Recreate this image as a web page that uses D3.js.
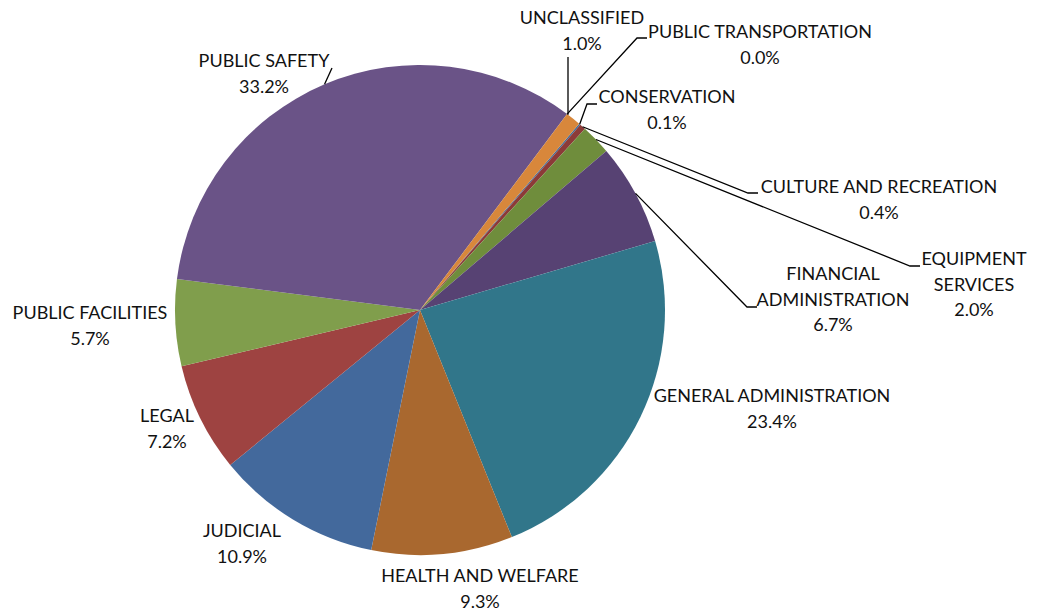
<!DOCTYPE html>
<html><head><meta charset="utf-8">
<script src="https://cdn.jsdelivr.net/npm/d3@7"></script>
<style>body{margin:0;background:#fff}svg{display:block}text{font-family:Lato,"Open Sans",sans-serif;font-size:18px;fill:#111}</style>
</head><body>
<svg id="c" width="1037" height="608"></svg>
<script>
const categories = ["CONSERVATION","CULTURE AND RECREATION","EQUIPMENT SERVICES","FINANCIAL ADMINISTRATION","GENERAL ADMINISTRATION","HEALTH AND WELFARE","JUDICIAL","LEGAL","PUBLIC FACILITIES","PUBLIC SAFETY","PUBLIC TRANSPORTATION","UNCLASSIFIED"];
const values = [0.1,0.4,2.0,6.7,23.4,9.3,10.9,7.2,5.7,33.2,0.0,1.0];
const colors = ["#3f6d9c","#8c3a38","#6f8d3c","#574273","#31768a","#a9682f","#43699c","#9e4341","#809e4c","#6a5387","#2e8aa0","#d8873b"];
// label layout: lines, center x, first baseline, leader end point (x,y), elbow x
const labelLines = [["CONSERVATION"],["CULTURE AND RECREATION"],["EQUIPMENT","SERVICES"],["FINANCIAL","ADMINISTRATION"],["GENERAL ADMINISTRATION"],["HEALTH AND WELFARE"],["JUDICIAL"],["LEGAL"],["PUBLIC FACILITIES"],["PUBLIC SAFETY"],["PUBLIC TRANSPORTATION"],["UNCLASSIFIED"]];
const labelPos = [[667,103],[879,193],[974,265],[833,280],[772,402],[480,582],[242,537],[167,422],[90,319],[264,67],[760,38],[582,24]];
const leaders = [[[587,104],[597,104]],[[748,193],[758,193]],[[910,266],[920,266]],[[747,307],[757,307]],null,null,null,null,null,[[332,68],null],[[637,38],[647,38]],[[568,57],null]];

const svg = d3.select("#c");
const cx = 420, cy = 310, r = 245;
const rot = 40.5 * Math.PI / 180;
const pie = d3.pie().sort(null).value(d => d).startAngle(rot).endAngle(rot + 2*Math.PI);
const arcs = pie(values);
const arc = d3.arc().innerRadius(0).outerRadius(r);
const g = svg.append("g").attr("transform", `translate(${cx},${cy})`);
g.selectAll("path").data(arcs).join("path").attr("d", arc).attr("fill", (d,i) => colors[i]);

// leader lines
arcs.forEach((a, i) => {
  const L = leaders[i];
  if (!L) return;
  const mid = (a.startAngle + a.endAngle) / 2;
  let px = cx + r * Math.sin(mid), py = cy - r * Math.cos(mid);
  let pts;
  if (L[1]) pts = [[px, py], L[0], L[1]];
  else if (i === 11) { px = L[0][0]; py = cy - Math.sqrt(r*r - (px-cx)*(px-cx)); pts = [[px, py], L[0]]; }
  else pts = [[px, py], L[0]];
  svg.append("polyline").attr("points", pts.map(p => p.join(",")).join(" "))
    .attr("fill", "none").attr("stroke", "#000").attr("stroke-width", 1.3);
});

// labels
labelLines.forEach((lines, i) => {
  const t = svg.append("text").attr("text-anchor", "middle");
  const all = lines.concat([values[i].toFixed(1) + "%"]);
  all.forEach((s, k) => t.append("tspan").attr("x", labelPos[i][0]).attr("y", labelPos[i][1] + k * 25.5).text(s));
});
</script>
</body></html>
